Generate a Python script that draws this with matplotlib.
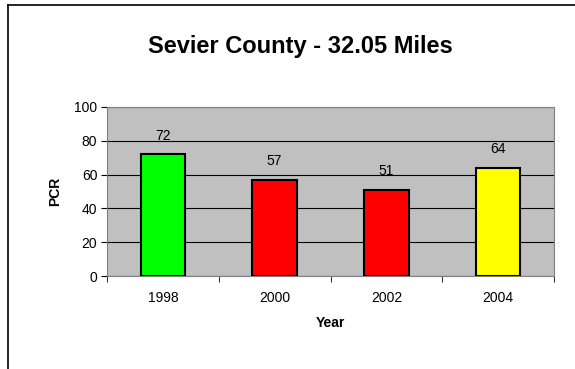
import matplotlib.pyplot as plt
from matplotlib.lines import Line2D

years = ['1998', '2000', '2002', '2004']
pcr = [72, 57, 51, 64]
bar_colors = ['#00FF00', '#FF0000', '#FF0000', '#FFFF00']

plt.rcParams['font.family'] = ['Liberation Sans', 'DejaVu Sans']

fig = plt.figure(figsize=(5.75, 3.69), dpi=100)
ax = fig.add_axes([107 / 575, 1 - 276 / 369, 447 / 575, 169 / 369])

x = range(len(years))
bars = ax.bar(x, pcr, width=0.4, color=bar_colors, edgecolor='black', linewidth=1.5, zorder=3)

ax.set_facecolor('#C0C0C0')
ax.set_xlim(-0.5, len(years) - 0.5)
ax.set_ylim(0, 100)
ax.set_yticks(range(0, 101, 20))
ax.yaxis.grid(True, color='black', linewidth=0.8, zorder=1)
ax.set_axisbelow(True)

ax.set_xticks(x)
ax.set_xticklabels(years, fontsize=10)
ax.tick_params(axis='x', length=0, pad=11)
ax.set_xticks([i - 0.5 for i in range(len(years) + 1)], minor=True)
ax.tick_params(axis='x', which='minor', length=4, direction='out')
ax.tick_params(axis='y', labelsize=10, length=4, pad=3)

for side in ['top', 'right', 'left', 'bottom']:
    ax.spines[side].set_color('#808080')

ax.set_xlabel('Year', fontsize=10, fontweight='bold', labelpad=8)
ax.set_ylabel('PCR', fontsize=10, fontweight='bold', labelpad=9)

# value labels above bars
for bar, v in zip(bars, pcr):
    ax.text(bar.get_x() + bar.get_width() / 2, v + 11, str(v),
            ha='center', va='center', fontsize=10)

fig.text(300 / 575, 1 - 46 / 369, 'Sevier County - 32.05 Miles',
         ha='center', va='center', fontsize=17, fontweight='bold')

# outer frame lines
fig.add_artist(Line2D([8 / 575, 8 / 575], [0, 1 - 5 / 369], color='black', linewidth=1.2))
fig.add_artist(Line2D([8 / 575, 1], [1 - 5 / 369, 1 - 5 / 369], color='black', linewidth=1.2))

fig.savefig('out.png', dpi=100)
